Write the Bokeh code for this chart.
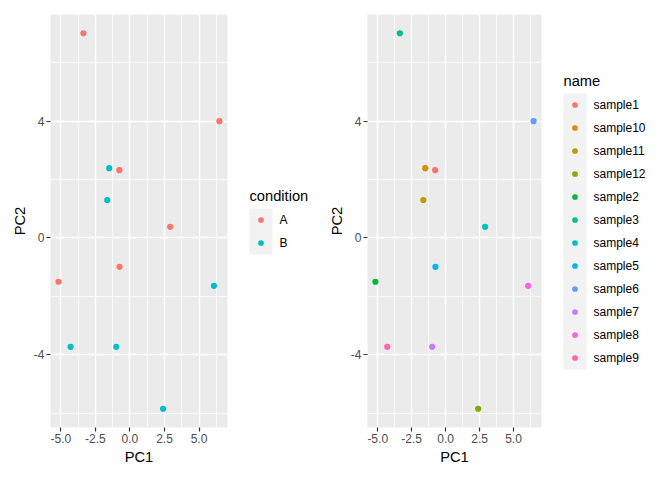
from bokeh.plotting import figure
from bokeh.layouts import row
from bokeh.models import FixedTicker, Range1d, ColumnDataSource
from bokeh.core.properties import value
from bokeh.embed import file_html
from bokeh.resources import INLINE

# PCA scores per sample
names = ["sample1", "sample2", "sample3", "sample4", "sample5", "sample6",
         "sample7", "sample8", "sample9", "sample10", "sample11", "sample12"]
pc1 = [-0.77, -5.17, -3.37, 2.91, -0.75, 6.48,
       -0.99, 6.08, -4.30, -1.50, -1.64, 2.40]
pc2 = [2.32, -1.50, 7.01, 0.38, -0.99, 4.00,
       -3.73, -1.64, -3.73, 2.39, 1.30, -5.85]
condition = ["A", "A", "A", "A", "A", "A",
             "B", "B", "B", "B", "B", "B"]

# axis ticks
x_ticks = [-5.0, -2.5, 0.0, 2.5, 5.0]
x_tick_labels = ["-5.0", "-2.5", "0.0", "2.5", "5.0"]
x_minor = [-6.25, -3.75, -1.25, 1.25, 3.75, 6.25]
y_ticks = [-4, 0, 4]
y_tick_labels = ["-4", "0", "4"]
y_minor = [-6, -2, 2, 6]

# discrete colour scales (ggplot hue palette)
condition_levels = ["A", "B"]
condition_colors = ["#F8766D", "#00BFC4"]
name_levels = sorted(names)
name_colors = ["#F8766D", "#DE8C00", "#B79F00", "#7CAE00", "#00BA38", "#00C08B",
               "#00BFC4", "#00B4F0", "#619CFF", "#C77CFF", "#F564E3", "#FF64B0"]

FONT = "Liberation Sans"
H = 480
TOP, BOTTOM = 14, 53
SMALL = "12px"
LARGE = "14.7px"
DOT = 6.2


def expanded(vals, frac=0.05):
    lo, hi = min(vals), max(vals)
    pad = (hi - lo) * frac
    return Range1d(lo - pad, hi + pad)


def panel(width, left, right, levels, colors, groups):
    cmap = dict(zip(levels, colors))
    src = ColumnDataSource(dict(x=pc1, y=pc2, c=[cmap[g] for g in groups]))
    p = figure(width=width, height=H, output_backend="svg", toolbar_location=None,
               x_range=expanded(pc1), y_range=expanded(pc2),
               min_border_left=left, min_border_right=right,
               min_border_top=TOP, min_border_bottom=BOTTOM,
               background_fill_color="#EBEBEB", border_fill_color="white",
               outline_line_color=None)
    p.scatter("x", "y", source=src, size=DOT, fill_color="c", line_color=None)

    p.xaxis.ticker = FixedTicker(ticks=x_ticks, minor_ticks=x_minor)
    p.yaxis.ticker = FixedTicker(ticks=y_ticks, minor_ticks=y_minor)
    p.xaxis.major_label_overrides = dict(zip(x_ticks, x_tick_labels))
    p.yaxis.major_label_overrides = dict(zip(y_ticks, y_tick_labels))
    p.xaxis.axis_label = "PC1"
    p.yaxis.axis_label = "PC2"

    for ax in (p.xaxis, p.yaxis):
        ax.axis_line_color = None
        ax.major_tick_line_color = "#333333"
        ax.major_tick_line_width = 1.2
        ax.major_tick_in = 0
        ax.major_tick_out = 4
        ax.minor_tick_in = 0
        ax.minor_tick_out = 0
        ax.major_label_text_font = FONT
        ax.major_label_text_font_size = SMALL
        ax.major_label_text_color = "#4D4D4D"
        ax.major_label_standoff = 2
        ax.axis_label_text_font = FONT
        ax.axis_label_text_font_size = LARGE
        ax.axis_label_text_font_style = "normal"
        ax.axis_label_text_color = "black"
        ax.axis_label_standoff = 3

    for g in (p.xgrid, p.ygrid):
        g.grid_line_color = "white"
        g.grid_line_width = 1.4
        g.minor_grid_line_color = "white"
        g.minor_grid_line_width = 0.7
    return p


def legend(width, key_left, title, levels, colors):
    # the frame lines up with the panels' frames, so the y range is set to
    # page pixels (top of frame = TOP, bottom of frame = H - BOTTOM)
    p = figure(width=width, height=H, output_backend="svg", toolbar_location=None,
               x_range=Range1d(0, width), y_range=Range1d(H - BOTTOM, TOP),
               min_border_left=0, min_border_right=0,
               min_border_top=TOP, min_border_bottom=BOTTOM,
               x_axis_location=None, y_axis_location=None,
               outline_line_color=None, background_fill_color="white")
    p.grid.visible = False
    key, title_h, gap = 23, 17, 4
    n = len(levels)
    centre = TOP + (H - TOP - BOTTOM) / 2
    top = centre - (title_h + gap + n * key) / 2
    k0 = top + title_h + gap
    ys = [k0 + key * (i + 0.5) for i in range(n)]
    xs = [key_left + key / 2] * n
    p.quad(left=[key_left], right=[key_left + key], top=[k0], bottom=[k0 + n * key],
           fill_color="#F2F2F2", line_color=None)
    p.scatter(xs, ys, size=DOT - 0.5, fill_color=colors, line_color=None)
    p.text([key_left + key + 7] * n, ys, text=levels, text_font=value(FONT),
           text_font_size=SMALL, text_color="black",
           text_baseline="middle", text_align="left")
    p.text([key_left], [top + title_h / 2], text=[title], text_font=value(FONT),
           text_font_size=LARGE, text_color="black",
           text_baseline="middle", text_align="left")
    return p


left_panel = panel(235, 50, 8, condition_levels, condition_colors, condition)
left_legend = legend(90, 14, "condition", condition_levels, condition_colors)
right_panel = panel(230, 40, 14, name_levels, name_colors, names)
right_legend = legend(117, 8, "name", name_levels, name_colors)

layout = row(left_panel, left_legend, right_panel, right_legend)
open("out.html", "w").write(file_html(layout, INLINE))
